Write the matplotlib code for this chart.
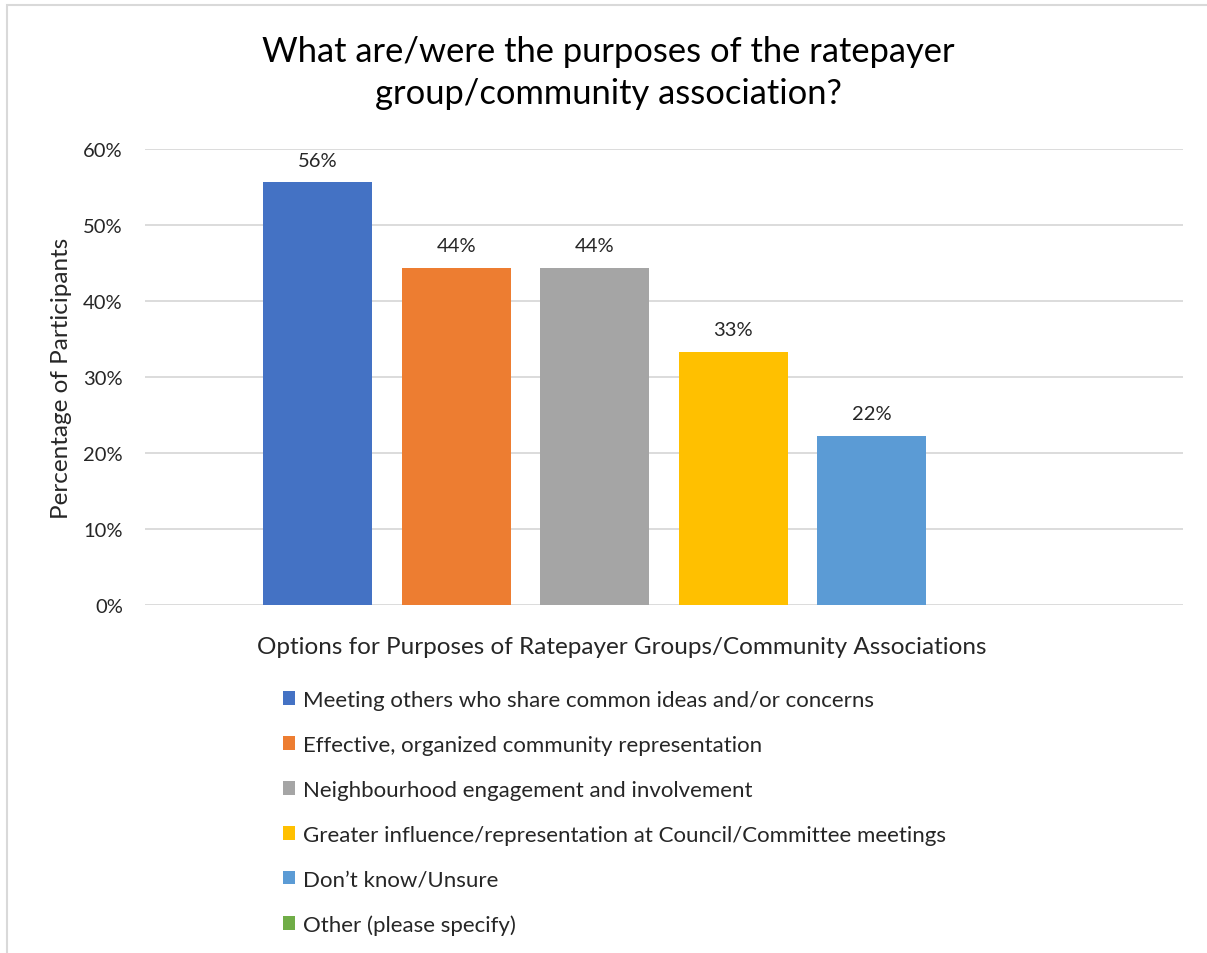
import matplotlib.pyplot as plt
from matplotlib.patches import Rectangle

plt.rcParams['font.family'] = ['Lato', 'DejaVu Sans']

# data
title = "What are/were the purposes of the ratepayer\ngroup/community association?"
options = ["Meeting others who share common ideas and/or concerns",
           "Effective, organized community representation",
           "Neighbourhood engagement and involvement",
           "Greater influence/representation at Council/Committee meetings",
           "Don\u2019t know/Unsure",
           "Other (please specify)"]
percents = [55.6, 44.4, 44.4, 33.3, 22.2, 0.0]
colors = ["#4472C4", "#ED7D31", "#A5A5A5", "#FFC000", "#5B9BD5", "#70AD47"]
yticks = [0, 10, 20, 30, 40, 50, 60]

W, H = 1207, 954
fig = plt.figure(figsize=(W / 100, H / 100), dpi=100)

# outer chart frame (cut off on right/bottom like the screenshot)
fig.patches.append(Rectangle((7 / W, -0.05), 1.1, (H - 6) / H + 0.05,
                             transform=fig.transFigure, fill=False,
                             edgecolor="#D9D9D9", lw=1.5))

ax = fig.add_axes([145 / W, (H - 606) / H, 1038 / W, 456 / H])

step = 138.5 / 1038
width = 109 / 1038
bars = []
for i, (name, val, col) in enumerate(zip(options, percents, colors)):
    x = (i - (len(options) - 1) / 2) * step
    b = ax.bar(x, val, width=width, color=col, label=name, zorder=3)
    bars.append(b)
    if val > 0:
        ax.annotate(f"{val:.0f}%", (x, val), xytext=(0, 10), textcoords="offset points",
                    ha="center", va="bottom", fontsize=14.5, color="#262626")

ax.set_xlim(-0.5, 0.5)
ax.set_ylim(0, 60)
ax.set_yticks(yticks)
ax.set_yticklabels([f"{t}%" for t in yticks], fontsize=14.5, color="#262626")
ax.set_xticks([])
ax.tick_params(axis="y", length=0, pad=16)
ax.grid(axis="y", color="#D9D9D9", lw=1.3, zorder=0)
for s in ax.spines.values():
    s.set_visible(False)

ax.set_ylabel("Percentage of Participants", fontsize=17.5, color="#262626", labelpad=8)
ax.set_xlabel("Options for Purposes of Ratepayer Groups/Community Associations",
              fontsize=17.5, color="#262626", va="center")
ax.xaxis.set_label_coords((622 - 145) / 1038, -(648 - 606) / 456)

fig.text(608 / W, 1 - 73 / H, title, ha="center", va="center", fontsize=24.8,
         color="#000000", linespacing=1.42)

fig.legend(handles=bars, labels=options, loc="upper left",
           bbox_to_anchor=(263 / W, 1 - 671 / H), frameon=False,
           fontsize=16, handlelength=0.55, handleheight=0.55, handletextpad=0.35,
           labelspacing=1.12, labelcolor="#262626")

fig.savefig("out.png", dpi=100)
